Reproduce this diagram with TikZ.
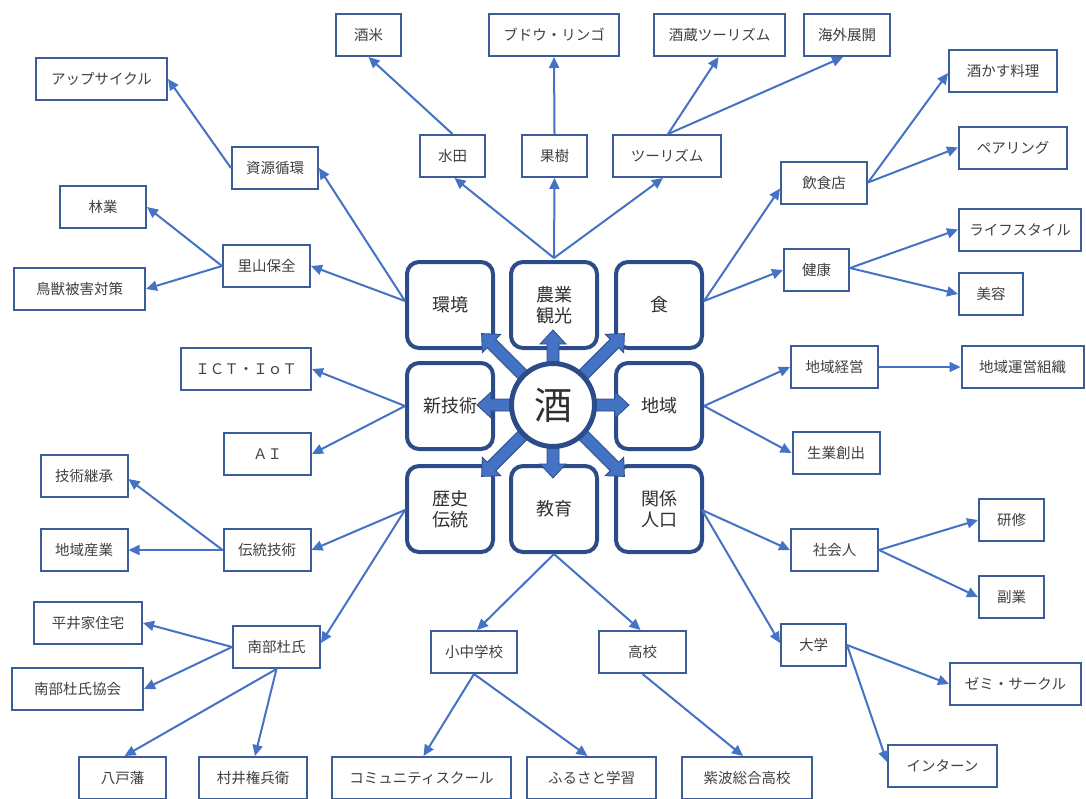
\documentclass[tikz,border=0pt]{standalone}
\usepackage{fontspec}
\newfontfamily\jp{Noto Sans CJK JP}
\usetikzlibrary{arrows.meta}
\definecolor{boxc}{HTML}{3B5E9A}
\definecolor{bigc}{HTML}{2B4C88}
\definecolor{conc}{HTML}{4472C4}
\definecolor{txt}{HTML}{404040}
\definecolor{txtc}{HTML}{303030}
\tikzset{
  box/.style={draw=boxc, line width=2pt, fill=white, minimum height=42pt, inner sep=0pt, text=txt,
    font=\jp\fontsize{14.5}{17}\selectfont},
  big/.style={draw=bigc, line width=4pt, rounded corners=12pt, fill=white, minimum width=86pt,
    minimum height=86pt, inner sep=0pt, align=center, text=txtc, font=\jp\fontsize{18}{21}\selectfont},
  hub/.style={circle, draw=bigc, line width=5pt, fill=white, minimum size=83pt, inner sep=0pt,
    text=txtc, font=\jp\fontsize{38}{40}\selectfont},
  con/.style={draw=conc, line width=2pt, -{Triangle[length=11pt,width=10pt]}},
  barrow/.style={fill=conc, draw=bigc, line width=0.8pt, line join=miter},
}
\begin{document}
\begin{tikzpicture}[x=1pt,y=-1pt]
\useasboundingbox (0,0) rectangle (1086,798);
\clip (0,0) rectangle (1086,798);
\fill[white] (0,0) rectangle (1086,798);

% big boxes
\node[big] (kankyo) at (450,305) {環境};
\node[big] (nogyo) at (554,305) {農業\\観光};
\node[big] (shoku) at (659,305) {食};
\node[big] (shingi) at (450,406) {新技術};
\node[big] (chiiki) at (659,406) {地域};
\node[big] (rekishi) at (450,509) {歴史\\伝統};
\node[big] (kyoiku) at (554,509) {教育};
\node[big] (kankei) at (659,509) {関係\\人口};

% block arrows
\coordinate (cen) at (553,405);
\foreach \a/\L in {0/76,90/75,180/76,270/73,45/101,135/101,225/101,315/101}{
  \begin{scope}[shift={(cen)}, rotate=\a]
    \draw[barrow] (0,-6) -- (\L-14,-6) -- (\L-14,-13) -- (\L,0) -- (\L-14,13) -- (\L-14,6) -- (0,6) -- cycle;
  \end{scope}
}
\node[hub] (sake) at (cen) {酒};

% boxes
\node[box, minimum width=65pt] (sakamai) at (368.5,35) {酒米};
\node[box, minimum width=130pt] (budou) at (554,35) {ブドウ・リンゴ};
\node[box, minimum width=131pt] (sakagura) at (719.5,35) {酒蔵ツーリズム};
\node[box, minimum width=86pt] (kaigai) at (847,35) {海外展開};
\node[box, minimum width=131pt] (upcycle) at (101.5,79) {アップサイクル};
\node[box, minimum width=108pt] (sakekasu) at (1003,71) {酒かす料理};
\node[box, minimum width=86pt] (shigen) at (275,168) {資源循環};
\node[box, minimum width=65pt] (suiden) at (452.5,156) {水田};
\node[box, minimum width=65pt] (kaju) at (554.5,156) {果樹};
\node[box, minimum width=108pt] (tourism) at (667,156) {ツーリズム};
\node[box, minimum width=108pt] (pairing) at (1013,147.5) {ペアリング};
\node[box, minimum width=86pt] (inshoku) at (824,182.5) {飲食店};
\node[box, minimum width=86pt] (ringyo) at (103,207) {林業};
\node[box, minimum width=87pt] (satoyama) at (266.5,266) {里山保全};
\node[box, minimum width=131pt] (chouju) at (79.5,289) {鳥獣被害対策};
\node[box, minimum width=122pt] (lifestyle) at (1020,229.5) {ライフスタイル};
\node[box, minimum width=65pt] (kenkou) at (816.5,270) {健康};
\node[box, minimum width=64pt] (biyou) at (991,294) {美容};
\node[box, minimum width=130pt] (ict) at (246,369) {ＩＣＴ・ＩｏＴ};
\node[box, minimum width=87pt] (ai) at (267.5,454) {ＡＩ};
\node[box, minimum width=87pt] (keiei) at (834.5,367) {地域経営};
\node[box, minimum width=122pt] (unei) at (1022.5,367) {地域運営組織};
\node[box, minimum width=87pt] (nariwai) at (836,453) {生業創出};
\node[box, minimum width=87pt] (keishou) at (84,476) {技術継承};
\node[box, minimum width=87pt] (sangyo) at (84,550) {地域産業};
\node[box, minimum width=87pt] (dentou) at (267,550) {伝統技術};
\node[box, minimum width=65pt] (kenshu) at (1011.5,520) {研修};
\node[box, minimum width=87pt] (shakai) at (834.5,550) {社会人};
\node[box, minimum width=65pt] (fukugyo) at (1011.5,597) {副業};
\node[box, minimum width=108pt] (hirai) at (88,623) {平井家住宅};
\node[box, minimum width=87pt] (nanbu) at (276.5,647) {南部杜氏};
\node[box, minimum width=131pt] (kyoukai) at (77.5,689) {南部杜氏協会};
\node[box, minimum width=65pt] (daigaku) at (813.5,645) {大学};
\node[box, minimum width=131pt] (zemi) at (1015.5,684) {ゼミ・サークル};
\node[box, minimum width=86pt] (shochu) at (474,652) {小中学校};
\node[box, minimum width=87pt] (koukou) at (642.5,652) {高校};
\node[box, minimum width=109pt] (intern) at (942.5,766) {インターン};
\node[box, minimum width=87pt] (hachinohe) at (122.5,778) {八戸藩};
\node[box, minimum width=108pt] (murai) at (253,778) {村井権兵衛};
\node[box, minimum width=179pt] (community) at (421.5,778) {コミュニティスクール};
\node[box, minimum width=129pt] (furusato) at (591.5,778) {ふるさと学習};
\node[box, minimum width=130pt] (shiwa) at (747,778) {紫波総合高校};

% connectors
\draw[con] ([yshift=4pt]kankyo.west) -- (shigen.east);
\draw[con] ([yshift=4pt]kankyo.west) -- (satoyama.east);
\draw[con] (shigen.west) -- (upcycle.east);
\draw[con] (satoyama.west) -- (ringyo.east);
\draw[con] (satoyama.west) -- (chouju.east);

\draw[con] ([yshift=2pt]nogyo.north) -- ([xshift=2pt]suiden.south);
\draw[con] ([yshift=2pt]nogyo.north) -- (kaju.south);
\draw[con] ([yshift=2pt]nogyo.north) -- ([xshift=-4pt]tourism.south);
\draw[con] (suiden.north) -- (sakamai.south);
\draw[con] (kaju.north) -- (budou.south);
\draw[con] ([xshift=1pt]tourism.north) -- ([xshift=-1pt]sakagura.south);
\draw[con] ([xshift=1pt]tourism.north) -- ([xshift=-4pt]kaigai.south);

\draw[con] ([yshift=4pt]shoku.east) -- ([yshift=-6pt]inshoku.west);
\draw[con] ([yshift=4pt]shoku.east) -- (kenkou.west);
\draw[con] (inshoku.east) -- ([yshift=-2pt]sakekasu.west);
\draw[con] (inshoku.east) -- (pairing.west);
\draw[con] ([yshift=2pt]kenkou.east) -- (lifestyle.west);
\draw[con] ([yshift=2pt]kenkou.east) -- (biyou.west);

\draw[con] (shingi.west) -- (ict.east);
\draw[con] (shingi.west) -- (ai.east);
\draw[con] (chiiki.east) -- (keiei.west);
\draw[con] (chiiki.east) -- (nariwai.west);
\draw[con] (keiei.east) -- (unei.west);

\draw[con] ([yshift=-1pt]rekishi.west) -- (dentou.east);
\draw[con] ([yshift=-1pt]rekishi.west) -- ([yshift=4pt]nanbu.east);
\draw[con] (dentou.west) -- ([yshift=-3pt]keishou.east);
\draw[con] (dentou.west) -- (sangyo.east);
\draw[con] (nanbu.west) -- (hirai.east);
\draw[con] (nanbu.west) -- (kyoukai.east);
\draw[con] (nanbu.south) -- ([xshift=2pt]hachinohe.north);
\draw[con] (nanbu.south) -- ([xshift=2pt]murai.north);

\draw[con] (kyoiku.south) -- ([xshift=3pt]shochu.north);
\draw[con] (kyoiku.south) -- ([xshift=-2pt]koukou.north);
\draw[con] (shochu.south) -- ([xshift=2pt]community.north);
\draw[con] (shochu.south) -- ([xshift=-4pt]furusato.north);
\draw[con] (koukou.south) -- ([xshift=-4pt]shiwa.north);

\draw[con] ([xshift=-2pt,yshift=-1pt]kankei.east) -- (shakai.west);
\draw[con] ([xshift=-2pt,yshift=-1pt]kankei.east) -- ([yshift=2pt]daigaku.west);
\draw[con] (shakai.east) -- (kenshu.west);
\draw[con] (shakai.east) -- (fukugyo.west);
\draw[con] (daigaku.east) -- (zemi.west);
\draw[con] (daigaku.east) -- ([yshift=4pt]intern.west);
\end{tikzpicture}
\end{document}
